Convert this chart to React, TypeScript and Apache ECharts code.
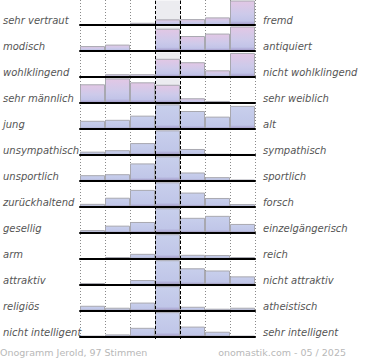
import React, { useEffect, useRef } from "react";
import * as echarts from "echarts";

const leftLabels = [
  "sehr vertraut", "modisch", "wohlklingend", "sehr männlich", "jung", "unsympathisch",
  "unsportlich", "zurückhaltend", "gesellig", "arm", "attraktiv", "religiös", "nicht intelligent",
];
const rightLabels = [
  "fremd", "antiquiert", "nicht wohlklingend", "sehr weiblich", "alt", "sympathisch",
  "sportlich", "forsch", "einzelgängerisch", "reich", "nicht attraktiv", "atheistisch", "sehr intelligent",
];
const columns = ["1", "2", "3", "4", "5", "6", "7"];

const rowVertraut = [0, 0, 9, 23, 24, 31, 100];
const rowModisch = [20, 26, 0, 91, 61, 71, 100];
const rowKlang = [0, 11, 11, 74, 60, 27, 98];
const rowMaennlich = [76, 100, 84, 74, 19, 8, 0];
const rowJung = [33, 37, 54, 100, 73, 50, 94];
const rowSympathisch = [13, 19, 48, 100, 24, 4, 3];
const rowSportlich = [23, 27, 71, 100, 34, 15, 5];
const rowForsch = [12, 37, 69, 100, 58, 36, 11];
const rowGesellig = [11, 29, 44, 100, 61, 69, 36];
const rowArm = [1, 7, 20, 100, 16, 15, 7];
const rowAttraktiv = [7, 0, 19, 100, 67, 58, 34];
const rowReligioes = [20, 12, 33, 100, 16, 8, 12];
const rowIntelligent = [3, 9, 36, 100, 41, 20, 3];

const rows = [
  rowVertraut, rowModisch, rowKlang, rowMaennlich, rowJung, rowSympathisch, rowSportlich,
  rowForsch, rowGesellig, rowArm, rowAttraktiv, rowReligioes, rowIntelligent,
];

const footerLeft = "Onogramm Jerold, 97 Stimmen";
const footerRight = "onomastik.com - 05 / 2025";

const FONT = "DejaVu Sans";

function pinkGradient() {
  return new echarts.graphic.LinearGradient(0, 0, 0, 1, [
    { offset: 0, color: "#e2c7e5" },
    { offset: 0.55, color: "#cdcaea" },
    { offset: 0.85, color: "#c2c4e8" },
    { offset: 1, color: "#a49bcb" },
  ]);
}
function blueGradient() {
  return new echarts.graphic.LinearGradient(0, 0, 0, 1, [
    { offset: 0, color: "#c8cfec" },
    { offset: 0.85, color: "#c0c6e8" },
    { offset: 1, color: "#a49bcb" },
  ]);
}

export default function App() {
  const ref = useRef<HTMLDivElement>(null);
  useEffect(() => {
    const chart = echarts.init(ref.current!, null, { renderer: "svg" });
    const ROW_STEP = 25.97;
    const FIRST_BASE = 25;
    const ROW_H = 24.5;
    const grids: any[] = [];
    const xAxes: any[] = [];
    const yAxes: any[] = [];
    const series: any[] = [];

    rows.forEach((vals, i) => {
      const base = FIRST_BASE + ROW_STEP * i;
      grids.push({ left: 80, width: 175, top: base - ROW_H, height: ROW_H });
      xAxes.push({
        type: "category", gridIndex: i, data: columns, z: 6,
        axisLine: { show: true, lineStyle: { color: "#000", width: 2 } },
        axisTick: { show: false }, axisLabel: { show: false }, splitLine: { show: false },
      });
      yAxes.push({ type: "value", gridIndex: i, min: 0, max: 100, show: false });
      series.push({
        type: "bar", xAxisIndex: i, yAxisIndex: i, silent: true, z: 1,
        data: columns.map((_, j) => (j === 3 ? 100 : null)),
        barWidth: "100%", barGap: "-100%",
        itemStyle: { color: "#ececf0" },
      });
      series.push({
        type: "bar", xAxisIndex: i, yAxisIndex: i, z: 2,
        data: vals, barWidth: "100%", barGap: "-100%",
        itemStyle: {
          color: i < 4 ? pinkGradient() : blueGradient(),
          borderColor: "#a8a8b0", borderWidth: 1,
        },
      });
    });

    // overlay grid with vertical guide lines
    const gLines = rows.length;
    grids.push({ left: 80, width: 175, top: 0, height: 339 });
    xAxes.push({
      type: "value", gridIndex: gLines, min: 0, max: 7, interval: 1,
      axisLine: { show: false }, axisTick: { show: false }, axisLabel: { show: false },
      splitLine: { show: true, lineStyle: { color: "#8a8a8a", type: [1, 2], width: 1 } },
    });
    yAxes.push({ type: "value", gridIndex: gLines, min: 0, max: 1, show: false });
    series.push({
      type: "scatter", xAxisIndex: gLines, yAxisIndex: gLines, z: 10, silent: true,
      data: [[0, 0]], symbolSize: 0,
      markLine: {
        silent: true, symbol: ["none", "none"], label: { show: false },
        lineStyle: { color: "#000", type: [3, 2], width: 1 },
        data: [{ xAxis: 3 }, { xAxis: 4 }],
      },
    });

    // label grid
    const gLab = rows.length + 1;
    grids.push({ left: 80, width: 175, top: 7, height: 338 });
    xAxes.push({ type: "value", gridIndex: gLab, show: false, min: 0, max: 1 });
    const labStyle = { fontFamily: FONT, fontStyle: "italic", fontSize: 10, color: "#555" };
    yAxes.push({
      type: "category", gridIndex: gLab, data: leftLabels, inverse: true, position: "left",
      axisLine: { show: false }, axisTick: { show: false }, splitLine: { show: false },
      axisLabel: { ...labStyle, margin: 79, align: "left", interval: 0 },
    });
    yAxes.push({
      type: "category", gridIndex: gLab, data: rightLabels, inverse: true, position: "right",
      axisLine: { show: false }, axisTick: { show: false }, splitLine: { show: false },
      axisLabel: { ...labStyle, margin: 8, align: "left", interval: 0 },
    });

    const footStyle = { fontFamily: FONT, fontSize: 9.5, color: "#b8b8b8", fontWeight: "normal" as const };
    chart.setOption({
      animation: false,
      title: [
        { text: footerLeft, left: 0, top: 347, padding: 0, textStyle: footStyle },
        { text: footerRight, right: 24, top: 347, padding: 0, textStyle: footStyle },
      ],
      grid: grids,
      xAxis: xAxes,
      yAxis: yAxes,
      series,
    });
    return () => chart.dispose();
  }, []);
  return (
    <div
      ref={ref}
      style={{ position: "fixed", left: 0, top: 0, width: 370, height: 360, background: "#fff" }}
    />
  );
}
